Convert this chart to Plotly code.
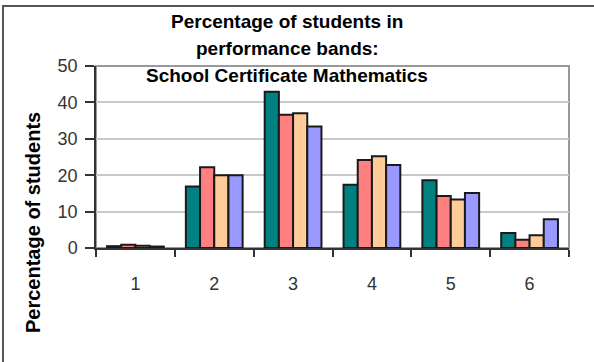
import plotly.graph_objects as go

# Performance bands and percentage of students in each band, one series per cohort
bands = ["1", "2", "3", "4", "5", "6"]
series_names = ["Cohort A", "Cohort B", "Cohort C", "Cohort D"]
cohort_a = [0.5, 16.9, 42.9, 17.4, 18.6, 4.1]
cohort_b = [0.9, 22.2, 36.6, 24.2, 14.3, 2.3]
cohort_c = [0.6, 20.0, 37.0, 25.2, 13.3, 3.5]
cohort_d = [0.4, 20.0, 33.4, 22.8, 15.1, 7.9]
series_values = [cohort_a, cohort_b, cohort_c, cohort_d]
colors = ["#008080", "#FF8080", "#FFCC99", "#9999FF"]
y_ticks = [0, 10, 20, 30, 40, 50]

W, H = 594, 362
ML, MR, MT, MB = 96, 25, 66, 114
PW, PH = W - ML - MR, H - MT - MB


def px_to_paper(x, y):
    return (x - ML) / PW, (H - MB - y) / PH


fig = go.Figure()
for name, vals, col in zip(series_names, series_values, colors):
    fig.add_trace(go.Bar(
        x=bands, y=vals, name=name,
        marker=dict(color=col, line=dict(color="#1a1a1a", width=2)),
    ))

font = "Liberation Sans, Arial, sans-serif"

fig.update_layout(
    width=W, height=H,
    margin=dict(l=ML, r=MR, t=MT, b=MB),
    paper_bgcolor="white", plot_bgcolor="white",
    barmode="group", bargap=0.28, bargroupgap=0.0,
    showlegend=False,
    font=dict(family=font, color="#222"),
)

fig.update_xaxes(
    type="category",
    showgrid=False,
    showline=True, linecolor="#333", linewidth=1.5,
    ticks="outside", tickson="boundaries", ticklen=7, tickcolor="#333", tickwidth=1.5,
    tickfont=dict(size=18, color="#333", family=font),
    ticklabelstandoff=19,
    range=[-0.5, 5.5],
)
fig.update_yaxes(
    range=[0, 50],
    tickvals=y_ticks,
    showgrid=True, gridcolor="#c8c8c8", gridwidth=1.5,
    showline=True, linecolor="#333", linewidth=1.5,
    ticks="outside", ticklen=9, tickcolor="#333", tickwidth=1.5,
    tickfont=dict(size=18, color="#333", family=font),
    ticklabelstandoff=4,
    zeroline=False,
)

# Plot area frame (top and right edges in grey)
fig.add_shape(type="rect", xref="paper", yref="paper", x0=0, y0=0, x1=1, y1=1,
              line=dict(color="#999", width=2), layer="below")

# Outer chart frame
x0, y0 = px_to_paper(3, 6)
x1, y1 = px_to_paper(W + 20, H + 20)
fig.add_shape(type="rect", xref="paper", yref="paper", x0=x0, y0=y0, x1=x1, y1=y1,
              line=dict(color="#555", width=2), layer="above")

# Title, three lines
title_lines = ["Percentage of students in", "performance bands:", "School Certificate Mathematics"]
for i, line in enumerate(title_lines):
    tx, ty = px_to_paper(287, 22 + 26.5 * i)
    fig.add_annotation(text=line, xref="paper", yref="paper", x=tx, y=ty,
                       xanchor="center", yanchor="middle", showarrow=False,
                       font=dict(size=19, color="#000", family=font, weight="bold"))

# Vertical axis title
ax, ay = px_to_paper(33, 223)
fig.add_annotation(text="Percentage of students", xref="paper", yref="paper", x=ax, y=ay,
                   xanchor="center", yanchor="middle", showarrow=False, textangle=-90,
                   font=dict(size=20, color="#000", family=font, weight="bold"))

fig.write_html("out.html")
